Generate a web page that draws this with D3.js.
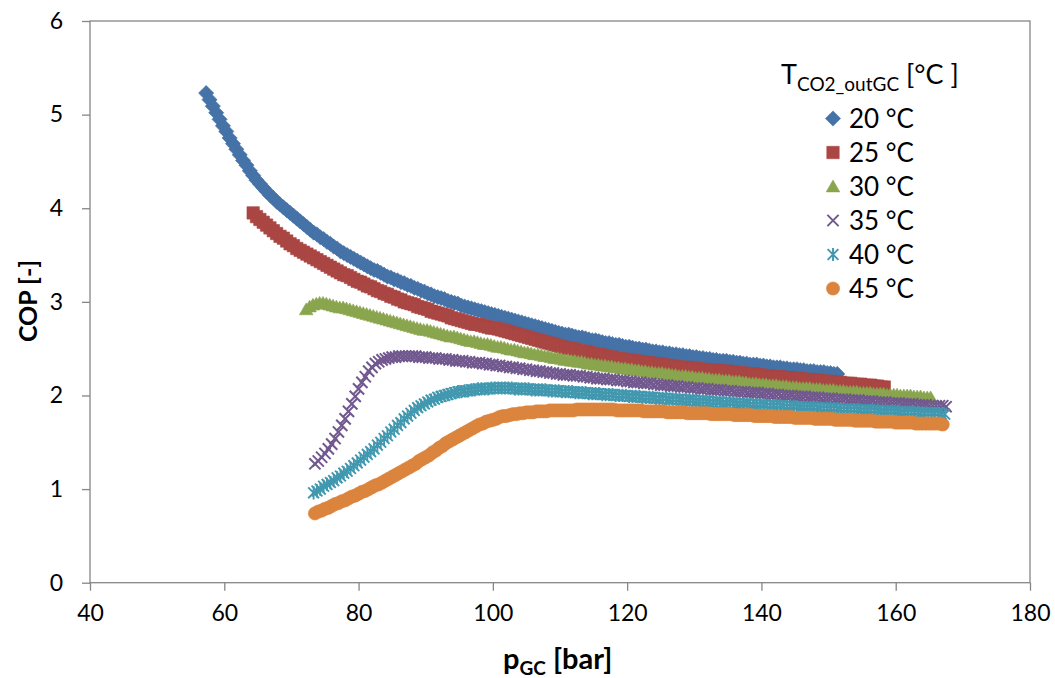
<!DOCTYPE html>
<html>
<head>
<meta charset="utf-8">
<script src="https://cdn.jsdelivr.net/npm/d3@7"></script>
<style>
  html, body { margin: 0; padding: 0; background: #ffffff; }
  svg { display: block; }
  text { font-family: Lato, "Open Sans", "Noto Sans", sans-serif; fill: #000; }
</style>
</head>
<body>
<svg id="chart" width="1055" height="678"></svg>
<script>
// COP of the CO2 cycle versus gas-cooler pressure, one series per gas-cooler outlet temperature.
// Each series is sampled every 0.5 bar starting from its first pressure.
const seriesLabels = ["20 °C", "25 °C", "30 °C", "35 °C", "40 °C", "45 °C"];
const seriesStart = [57.3, 64.3, 72.2, 73.5, 73.3, 73.5]; // bar
const pressureStep = 0.5; // bar
const xTicks = [40, 60, 80, 100, 120, 140, 160, 180];
const yTicks = [0, 1, 2, 3, 4, 5, 6];

const cop20 = [
  5.23,5.16,5.09,5.02,4.95,4.88,4.82,4.75,4.69,4.63,
  4.57,4.51,4.46,4.40,4.35,4.30,4.26,4.22,4.18,4.14,
  4.11,4.07,4.04,4.01,3.98,3.95,3.92,3.89,3.86,3.83,
  3.80,3.77,3.74,3.72,3.69,3.67,3.64,3.62,3.59,3.57,
  3.54,3.52,3.50,3.48,3.46,3.44,3.42,3.40,3.38,3.36,
  3.34,3.33,3.31,3.29,3.27,3.26,3.24,3.23,3.21,3.20,
  3.18,3.17,3.15,3.14,3.12,3.11,3.09,3.08,3.06,3.05,
  3.04,3.03,3.01,3.00,2.99,2.98,2.96,2.95,2.94,2.93,
  2.92,2.91,2.90,2.89,2.88,2.87,2.86,2.85,2.84,2.83,
  2.82,2.81,2.80,2.79,2.78,2.77,2.76,2.75,2.74,2.73,
  2.72,2.71,2.70,2.69,2.68,2.67,2.66,2.65,2.65,2.64,
  2.63,2.62,2.62,2.61,2.60,2.59,2.59,2.58,2.57,2.56,
  2.56,2.55,2.54,2.54,2.53,2.52,2.52,2.51,2.50,2.50,
  2.49,2.49,2.48,2.47,2.47,2.46,2.46,2.45,2.45,2.44,
  2.44,2.43,2.43,2.42,2.42,2.41,2.41,2.40,2.40,2.39,
  2.39,2.38,2.38,2.37,2.37,2.37,2.36,2.36,2.35,2.35,
  2.34,2.34,2.33,2.33,2.33,2.32,2.32,2.31,2.31,2.30,
  2.30,2.30,2.29,2.29,2.28,2.28,2.28,2.27,2.27,2.26,
  2.26,2.26,2.25,2.25,2.25,2.24,2.24,2.23,2.23
];
const cop25 = [
  3.95,3.91,3.88,3.85,3.82,3.79,3.76,3.73,3.70,3.68,
  3.65,3.62,3.60,3.57,3.55,3.53,3.51,3.49,3.47,3.45,
  3.43,3.41,3.39,3.37,3.35,3.33,3.31,3.29,3.28,3.26,
  3.24,3.22,3.21,3.19,3.17,3.16,3.14,3.12,3.11,3.09,
  3.08,3.06,3.05,3.03,3.02,3.00,2.99,2.98,2.97,2.95,
  2.94,2.93,2.92,2.90,2.89,2.88,2.87,2.86,2.85,2.83,
  2.82,2.81,2.80,2.79,2.78,2.77,2.76,2.76,2.75,2.74,
  2.73,2.72,2.72,2.71,2.70,2.69,2.68,2.67,2.66,2.65,
  2.64,2.63,2.62,2.61,2.60,2.59,2.58,2.57,2.56,2.55,
  2.54,2.53,2.52,2.51,2.50,2.50,2.49,2.48,2.47,2.47,
  2.46,2.45,2.44,2.44,2.43,2.42,2.41,2.41,2.40,2.39,
  2.39,2.38,2.38,2.37,2.37,2.36,2.36,2.35,2.35,2.34,
  2.34,2.33,2.33,2.32,2.32,2.31,2.31,2.30,2.30,2.30,
  2.29,2.29,2.29,2.28,2.28,2.27,2.27,2.27,2.27,2.26,
  2.26,2.26,2.25,2.25,2.24,2.24,2.24,2.23,2.23,2.23,
  2.22,2.22,2.21,2.21,2.21,2.20,2.20,2.20,2.19,2.19,
  2.19,2.18,2.18,2.18,2.17,2.17,2.17,2.16,2.16,2.16,
  2.15,2.15,2.15,2.14,2.14,2.14,2.13,2.13,2.13,2.12,
  2.12,2.12,2.11,2.11,2.11,2.10,2.10,2.09,2.09
];
const cop30 = [
  2.92,2.95,2.97,2.98,2.99,2.99,2.98,2.97,2.96,2.95,
  2.94,2.94,2.93,2.92,2.91,2.90,2.89,2.88,2.87,2.86,
  2.85,2.84,2.83,2.82,2.81,2.80,2.79,2.78,2.77,2.76,
  2.75,2.74,2.73,2.72,2.71,2.70,2.70,2.69,2.68,2.67,
  2.66,2.65,2.64,2.63,2.63,2.62,2.61,2.60,2.59,2.58,
  2.58,2.57,2.56,2.55,2.55,2.54,2.53,2.52,2.52,2.51,
  2.50,2.49,2.49,2.48,2.47,2.46,2.46,2.45,2.44,2.44,
  2.43,2.42,2.42,2.41,2.40,2.40,2.39,2.38,2.38,2.37,
  2.37,2.36,2.36,2.35,2.34,2.34,2.33,2.33,2.32,2.32,
  2.31,2.31,2.30,2.30,2.29,2.29,2.28,2.28,2.27,2.27,
  2.26,2.26,2.25,2.25,2.24,2.24,2.24,2.23,2.23,2.22,
  2.22,2.21,2.21,2.21,2.20,2.20,2.19,2.19,2.19,2.18,
  2.18,2.17,2.17,2.17,2.16,2.16,2.16,2.15,2.15,2.15,
  2.14,2.14,2.13,2.13,2.13,2.12,2.12,2.12,2.11,2.11,
  2.11,2.10,2.10,2.10,2.09,2.09,2.09,2.08,2.08,2.08,
  2.08,2.07,2.07,2.07,2.06,2.06,2.06,2.06,2.05,2.05,
  2.05,2.04,2.04,2.04,2.04,2.03,2.03,2.03,2.03,2.02,
  2.02,2.02,2.02,2.01,2.01,2.01,2.01,2.00,2.00,2.00,
  2.00,1.99,1.99,1.99,1.98,1.98,1.98
];
const cop35 = [
  1.27,1.30,1.34,1.38,1.43,1.48,1.54,1.61,1.68,1.75,
  1.83,1.91,1.99,2.07,2.14,2.20,2.26,2.30,2.34,2.36,
  2.38,2.39,2.40,2.41,2.41,2.42,2.42,2.42,2.42,2.42,
  2.42,2.41,2.41,2.41,2.40,2.40,2.40,2.39,2.39,2.39,
  2.38,2.38,2.37,2.37,2.37,2.36,2.36,2.35,2.35,2.35,
  2.34,2.34,2.33,2.33,2.32,2.32,2.31,2.31,2.30,2.30,
  2.29,2.29,2.28,2.28,2.27,2.27,2.26,2.26,2.25,2.25,
  2.24,2.24,2.23,2.23,2.22,2.22,2.22,2.21,2.21,2.21,
  2.20,2.20,2.19,2.19,2.18,2.18,2.18,2.17,2.17,2.17,
  2.16,2.16,2.16,2.15,2.15,2.14,2.14,2.14,2.13,2.13,
  2.13,2.12,2.12,2.11,2.11,2.11,2.10,2.10,2.10,2.09,
  2.09,2.09,2.08,2.08,2.08,2.07,2.07,2.07,2.06,2.06,
  2.06,2.06,2.05,2.05,2.05,2.04,2.04,2.04,2.04,2.03,
  2.03,2.03,2.03,2.02,2.02,2.02,2.01,2.01,2.01,2.00,
  2.00,2.00,2.00,1.99,1.99,1.99,1.99,1.98,1.98,1.98,
  1.98,1.97,1.97,1.97,1.97,1.96,1.96,1.96,1.96,1.95,
  1.95,1.95,1.95,1.94,1.94,1.94,1.94,1.93,1.93,1.93,
  1.93,1.92,1.92,1.92,1.92,1.91,1.91,1.91,1.91,1.90,
  1.90,1.90,1.90,1.89,1.89,1.89,1.89,1.89,1.88
];
const cop40 = [
  0.96,0.98,1.00,1.03,1.05,1.07,1.09,1.12,1.14,1.17,
  1.19,1.22,1.25,1.28,1.31,1.34,1.37,1.40,1.43,1.47,
  1.50,1.54,1.57,1.61,1.64,1.68,1.71,1.75,1.78,1.81,
  1.84,1.87,1.89,1.91,1.93,1.95,1.96,1.98,1.99,2.00,
  2.01,2.02,2.03,2.04,2.04,2.05,2.05,2.06,2.06,2.07,
  2.07,2.07,2.07,2.08,2.08,2.08,2.08,2.08,2.08,2.08,
  2.07,2.07,2.07,2.07,2.07,2.06,2.06,2.06,2.06,2.06,
  2.05,2.05,2.05,2.05,2.04,2.04,2.04,2.04,2.03,2.03,
  2.03,2.03,2.02,2.02,2.02,2.02,2.01,2.01,2.01,2.01,
  2.00,2.00,2.00,2.00,1.99,1.99,1.99,1.99,1.98,1.98,
  1.98,1.98,1.97,1.97,1.97,1.97,1.96,1.96,1.96,1.96,
  1.95,1.95,1.95,1.95,1.94,1.94,1.94,1.94,1.93,1.93,
  1.93,1.93,1.92,1.92,1.92,1.92,1.91,1.91,1.91,1.91,
  1.90,1.90,1.90,1.90,1.90,1.89,1.89,1.89,1.89,1.89,
  1.88,1.88,1.88,1.88,1.88,1.87,1.87,1.87,1.87,1.87,
  1.87,1.86,1.86,1.86,1.86,1.86,1.86,1.85,1.85,1.85,
  1.85,1.85,1.85,1.84,1.84,1.84,1.84,1.84,1.84,1.83,
  1.83,1.83,1.83,1.83,1.83,1.82,1.82,1.82,1.82,1.82,
  1.82,1.81,1.81,1.81,1.81,1.81,1.81,1.80,1.80
];
const cop45 = [
  0.74,0.76,0.77,0.79,0.80,0.82,0.84,0.85,0.87,0.88,
  0.90,0.92,0.93,0.95,0.97,0.98,1.00,1.02,1.04,1.05,
  1.07,1.09,1.11,1.13,1.15,1.17,1.19,1.21,1.23,1.25,
  1.27,1.30,1.32,1.34,1.36,1.39,1.41,1.44,1.46,1.49,
  1.51,1.53,1.55,1.57,1.59,1.61,1.63,1.65,1.67,1.69,
  1.70,1.72,1.73,1.74,1.75,1.77,1.78,1.78,1.79,1.80,
  1.80,1.81,1.81,1.82,1.82,1.82,1.83,1.83,1.83,1.83,
  1.84,1.84,1.84,1.84,1.84,1.84,1.84,1.84,1.85,1.85,
  1.85,1.85,1.85,1.85,1.85,1.85,1.85,1.85,1.85,1.85,
  1.84,1.84,1.84,1.84,1.84,1.84,1.84,1.84,1.83,1.83,
  1.83,1.83,1.83,1.83,1.83,1.82,1.82,1.82,1.82,1.82,
  1.82,1.81,1.81,1.81,1.81,1.81,1.81,1.81,1.80,1.80,
  1.80,1.80,1.80,1.80,1.80,1.79,1.79,1.79,1.79,1.79,
  1.79,1.78,1.78,1.78,1.78,1.78,1.78,1.77,1.77,1.77,
  1.77,1.77,1.77,1.76,1.76,1.76,1.76,1.76,1.76,1.75,
  1.75,1.75,1.75,1.75,1.75,1.74,1.74,1.74,1.74,1.74,
  1.74,1.73,1.73,1.73,1.73,1.73,1.73,1.72,1.72,1.72,
  1.72,1.72,1.72,1.71,1.71,1.71,1.71,1.71,1.71,1.70,
  1.70,1.70,1.70,1.70,1.70,1.70,1.70,1.69
];

const seriesValues = [cop20, cop25, cop30, cop35, cop40, cop45];
const seriesColors = ["#4572A7", "#AA4643", "#89A54E", "#71588F", "#4198AF", "#DB843D"];
const seriesMarkers = ["diamond", "square", "triangle", "cross", "star", "circle"];

// Marker shapes, centred on the origin
const markerShapes = {
  diamond:  { fill: true,  width: 0.6, d: "M0,-7.6L7.6,0L0,7.6L-7.6,0Z" },
  square:   { fill: true,  width: 0.6, d: "M-6.2,-6.2H6.2V6.2H-6.2Z" },
  triangle: { fill: true,  width: 0.6, d: "M0,-6.4L6.8,5.4H-6.8Z" },
  cross:    { fill: false, width: 2.0, d: "M-5.6,-5.6L5.6,5.6M5.6,-5.6L-5.6,5.6" },
  star:     { fill: false, width: 1.9, d: "M-5.4,-5.4L5.4,5.4M5.4,-5.4L-5.4,5.4M0,-6.6V6.6" },
  circle:   { fill: true,  width: 0.6, d: "M6.6,0A6.6,6.6 0 1,1 -6.6,0A6.6,6.6 0 1,1 6.6,0Z" }
};

const svg = d3.select("#chart");
const plot = { left: 90, right: 1030, top: 21, bottom: 582.7 };

const x = d3.scaleLinear().domain([40, 180]).range([plot.left, plot.right]);
const y = d3.scaleLinear().domain([0, 6]).range([plot.bottom, plot.top]);

const axisColor = "#868686";

// plot frame
svg.append("rect")
  .attr("x", plot.left).attr("y", plot.top)
  .attr("width", plot.right - plot.left).attr("height", plot.bottom - plot.top)
  .attr("fill", "none").attr("stroke", axisColor).attr("stroke-width", 1.3);

// axes
const xAxis = svg.append("g")
  .attr("transform", `translate(0,${plot.bottom})`)
  .call(d3.axisBottom(x).tickValues(xTicks).tickSize(8).tickPadding(14).tickFormat(d3.format("d")));
const yAxis = svg.append("g")
  .attr("transform", `translate(${plot.left},0)`)
  .call(d3.axisLeft(y).tickValues(yTicks).tickSize(8).tickPadding(19).tickFormat(d3.format("d")));

[xAxis, yAxis].forEach(g => {
  g.select(".domain").remove();
  g.selectAll(".tick line").attr("stroke", axisColor).attr("stroke-width", 1.3);
  g.selectAll(".tick text")
    .attr("fill", "#000")
    .style("font-family", "Lato, 'Open Sans', sans-serif")
    .style("font-size", "23px");
});

// data markers
seriesValues.forEach((vals, s) => {
  const shape = markerShapes[seriesMarkers[s]];
  const color = seriesColors[s];
  const pts = vals.map((v, i) => ({ p: seriesStart[s] + i * pressureStep, cop: v }));
  svg.append("g")
    .selectAll("path")
    .data(pts)
    .join("path")
    .attr("transform", d => `translate(${x(d.p)},${y(d.cop)})`)
    .attr("d", shape.d)
    .attr("fill", shape.fill ? color : "none")
    .attr("stroke", color)
    .attr("stroke-width", shape.width);
});

// axis titles
svg.append("text")
  .attr("transform", "translate(37,301) rotate(-90)")
  .attr("text-anchor", "middle")
  .style("font-size", "25px").style("font-weight", "bold")
  .text("COP [-]");

const xTitle = svg.append("text")
  .attr("x", 503).attr("y", 669)
  .style("font-size", "29px").style("font-weight", "bold");
xTitle.append("tspan").text("p");
xTitle.append("tspan").attr("dy", 6).style("font-size", "19px").text("GC");
xTitle.append("tspan").attr("dy", -6).text(" [bar]");

// legend
const legend = svg.append("g");
const lt = legend.append("text").attr("x", 781).attr("y", 84).style("font-size", "27px");
lt.append("tspan").text("T");
lt.append("tspan").attr("dy", 7).style("font-size", "19px").text("CO2_outGC");
lt.append("tspan").attr("dy", -7).text(" [°C ]");

seriesLabels.forEach((label, s) => {
  const cy = 118.5 + s * 34;
  const shape = markerShapes[seriesMarkers[s]];
  legend.append("path")
    .attr("transform", `translate(833,${cy})`)
    .attr("d", shape.d)
    .attr("fill", shape.fill ? seriesColors[s] : "none")
    .attr("stroke", seriesColors[s])
    .attr("stroke-width", shape.width);
  legend.append("text")
    .attr("x", 849).attr("y", cy + 9)
    .style("font-size", "26px")
    .text(label);
});
</script>
</body>
</html>
